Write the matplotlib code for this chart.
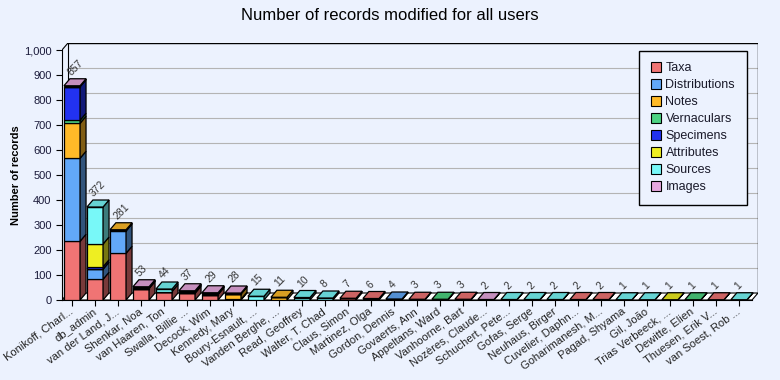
import matplotlib
matplotlib.use('Agg')
import matplotlib.pyplot as plt
from matplotlib.patches import Polygon, Patch
from matplotlib.colors import to_rgb

plt.rcParams['font.family'] = ['Liberation Sans', 'DejaVu Sans']

# data
users = ['Konikoff, Charl...', 'db_admin', 'van der Land, J...', 'Shenkar, Noa',
         'van Haaren, Ton', 'Swalla, Billie ...', 'Decock, Wim', 'Kennedy, Mary',
         'Boury-Esnault, ...', 'Vanden Berghe, ...', 'Read, Geoffrey', 'Walter, T. Chad',
         'Claus, Simon', 'Martinez, Olga', 'Gordon, Dennis', 'Govaerts, Ann',
         'Appeltans, Ward', 'Vanhoorne, Bart', 'Nozères, Claude...', 'Schuchert, Pete...',
         'Gofas, Serge', 'Neuhaus, Birger', 'Cuvelier, Daphn...', 'Goharimanesh, M...',
         'Pagad, Shyama', 'Gil, João', 'Trias Verbeeck, ...', 'Dewitte, Elien',
         'Thuesen, Erik V...', 'van Soest, Rob ...']
taxa =          [235, 83, 187, 46, 34, 27, 22, 0, 0, 0, 0, 0, 7, 6, 0, 3, 0, 3, 0, 0, 0, 0, 2, 2, 0, 0, 0, 0, 1, 0]
distributions = [332, 40, 89, 0, 0, 0, 0, 3, 0, 0, 0, 0, 0, 0, 4, 0, 0, 0, 0, 0, 0, 0, 0, 0, 0, 0, 0, 0, 0, 0]
notes =         [140, 0, 5, 0, 0, 0, 0, 21, 0, 11, 0, 0, 0, 0, 0, 0, 0, 0, 0, 0, 0, 0, 0, 0, 0, 0, 0, 0, 0, 0]
vernaculars =   [12, 0, 0, 0, 0, 0, 0, 0, 0, 0, 0, 0, 0, 0, 0, 0, 3, 0, 0, 0, 0, 0, 0, 0, 0, 0, 0, 1, 0, 0]
specimens =     [134, 10, 0, 3, 0, 6, 3, 0, 0, 0, 0, 0, 0, 0, 0, 0, 0, 0, 0, 0, 0, 0, 0, 0, 0, 0, 0, 0, 0, 0]
attributes =    [0, 91, 0, 0, 0, 0, 0, 0, 0, 0, 0, 0, 0, 0, 0, 0, 0, 0, 0, 0, 0, 0, 0, 0, 0, 0, 1, 0, 0, 0]
sources =       [0, 148, 0, 0, 10, 0, 0, 0, 15, 0, 10, 8, 0, 0, 0, 0, 0, 0, 0, 2, 2, 2, 0, 0, 1, 1, 0, 0, 0, 1]
images =        [4, 0, 0, 4, 0, 4, 4, 4, 0, 0, 0, 0, 0, 0, 0, 0, 0, 0, 2, 0, 0, 0, 0, 0, 0, 0, 0, 0, 0, 0]

series = [('Taxa', taxa, '#F07474'), ('Distributions', distributions, '#62A8F8'),
          ('Notes', notes, '#FFBA28'), ('Vernaculars', vernaculars, '#4CD282'),
          ('Specimens', specimens, '#2232F0'), ('Attributes', attributes, '#EEEE22'),
          ('Sources', sources, '#78F8F8'), ('Images', images, '#E8A8E0')]

bg = '#ECF2FE'
n = len(users)
w = 0.7
dx, dy = 0.26, 28
x0, xr = -0.435, 29.83

fig = plt.figure(figsize=(7.8, 3.8), dpi=100, facecolor=bg)
ax = fig.add_axes([62 / 780, 1 - 300 / 380, (758 - 62) / 780, (300 - 43) / 380])
ax.set_facecolor(bg)
ax.set_xlim(x0, xr)
ax.set_ylim(0, 1000 + dy)

# back wall, floor, grid
ax.add_patch(Polygon([(x0, 0), (xr - dx, 0), (xr, dy), (x0 + dx, dy)], closed=True,
                     fc='white', ec='black', lw=0.8, zorder=1))
for v in range(100, 1001, 100):
    ax.plot([x0 + dx, xr], [v + dy, v + dy], color='#B4B4B4', lw=0.8, zorder=0.5)
ax.plot([x0 + dx, xr, xr], [1000 + dy, 1000 + dy, dy], color='black', lw=1, zorder=0.6)
ax.plot([x0 + dx, x0 + dx], [dy, 1000 + dy], color='black', lw=0.8, zorder=0.6)
ax.plot([x0, x0 + dx], [1000, 1000 + dy], color='black', lw=0.8, zorder=0.6)

xs = list(range(n))
bottoms = [0] * n
tops = [None] * n
for name, vals, col in series:
    ax.bar(xs, vals, w, bottom=bottoms, color=col, edgecolor='black', lw=0.9, zorder=3)
    side = tuple(c * 0.5 for c in to_rgb(col))
    for i, v in enumerate(vals):
        if v <= 0:
            continue
        b = bottoms[i]
        r = i + w / 2
        ax.add_patch(Polygon([(r, b), (r + dx, b + dy), (r + dx, b + v + dy), (r, b + v)],
                             closed=True, fc=side, ec='black', lw=0.9, zorder=3))
        tops[i] = col
    bottoms = [b + v for b, v in zip(bottoms, vals)]

for i in range(n):
    t = bottoms[i]
    top_col = tuple(c * 0.85 for c in to_rgb(tops[i]))
    ax.add_patch(Polygon([(i - w / 2, t), (i + w / 2, t), (i + w / 2 + dx, t + dy), (i - w / 2 + dx, t + dy)],
                         closed=True, fc=top_col, ec='black', lw=0.9, zorder=4))
    ax.text(i + 0.02, t + dy + 6, str(t), rotation=45, rotation_mode='anchor',
            ha='left', va='bottom', fontsize=7.5, color='#333333', zorder=5)

for s in ['top', 'right']:
    ax.spines[s].set_visible(False)
ax.spines['left'].set_bounds(0, 1000)
ax.spines['bottom'].set_bounds(x0, xr - dx)
ax.set_yticks(range(0, 1001, 100))
ax.set_yticklabels([f'{v:,}' for v in range(0, 1001, 100)], fontsize=8, color='#1a1a3a')
ax.set_xticks(xs)
ax.set_xticklabels(users, rotation=36, rotation_mode='anchor', ha='right', va='center',
                   fontsize=8, color='#222222')
ax.tick_params(axis='both', length=4, width=0.8)
ax.set_ylabel('Number of records', fontsize=8, fontweight='bold')
ax.yaxis.set_label_coords((21 - 62) / 696, (300 - 175) / 257)

handles = [Patch(fc=col, ec='black', lw=0.8, label=name) for name, vals, col in series]
leg = fig.legend(handles=handles, loc='upper right', bbox_to_anchor=(747 / 780, 1 - 50.5 / 380),
                 bbox_transform=fig.transFigure, borderaxespad=0, fontsize=9, frameon=True,
                 fancybox=False, edgecolor='black', facecolor=bg, framealpha=1,
                 handlelength=0.75, handleheight=0.75, handletextpad=0.4,
                 labelspacing=0.4, borderpad=0.95)
leg.get_frame().set_linewidth(1)
for t in leg.get_texts():
    t.set_color('#1a1a2a')

fig.text(0.5, 1 - 15 / 380, 'Number of records modified for all users', ha='center', va='center',
         fontsize=12, color='black')

fig.savefig('out.png', dpi=100, facecolor=bg)
